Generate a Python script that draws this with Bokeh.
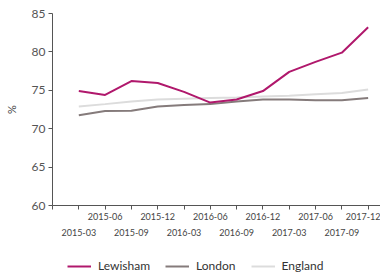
from bokeh.plotting import figure
from bokeh.layouts import column
from bokeh.models import LinearAxis, FixedTicker, Legend, LegendItem, Range1d, ColumnDataSource
from bokeh.embed import file_html
from bokeh.resources import INLINE

quarters = ["2015-03", "2015-06", "2015-09", "2015-12", "2016-03", "2016-06",
            "2016-09", "2016-12", "2017-03", "2017-06", "2017-09", "2017-12"]
lewisham = [74.9, 74.4, 76.2, 75.95, 74.8, 73.4, 73.8, 74.9, 77.4, 78.7, 79.9, 83.2]
london = [71.75, 72.3, 72.35, 72.9, 73.1, 73.2, 73.55, 73.8, 73.8, 73.7, 73.7, 74.0]
england = [72.9, 73.2, 73.55, 73.8, 73.9, 74.0, 74.05, 74.2, 74.3, 74.5, 74.65, 75.1]
series_names = ["Lewisham", "London", "England"]
y_ticks = [60, 65, 70, 75, 80, 85]

pos = list(range(1, len(quarters) + 1))
src = ColumnDataSource(dict(x=pos, lew=lewisham, lon=london, eng=england))

FONT = "Lato"
AX = "#555555"
C_LEW, C_LON, C_ENG = "#b0186c", "#857b7b", "#dcdcdc"

p = figure(width=380, height=243, output_backend="svg", toolbar_location=None,
           x_range=Range1d(0, 12.47), y_range=Range1d(60, 85),
           x_axis_location=None, y_axis_location=None,
           min_border_left=52, min_border_right=0, min_border_top=13, min_border_bottom=38)
p.outline_line_color = None
p.xgrid.visible = False
p.ygrid.visible = False

ya = LinearAxis(ticker=FixedTicker(ticks=y_ticks), axis_label="%")
ya.axis_line_color = AX
ya.major_tick_line_color = AX
ya.major_tick_out = 4
ya.major_tick_in = 0
ya.minor_tick_line_color = None
ya.major_label_text_font = FONT
ya.major_label_text_font_size = "12px"
ya.major_label_text_color = "#555555"
ya.major_label_standoff = 3
ya.axis_label_text_font = FONT
ya.axis_label_text_font_size = "11px"
ya.axis_label_text_font_style = "normal"
ya.axis_label_text_color = "#444444"
ya.axis_label_standoff = 11
p.add_layout(ya, "left")

even = {i + 1: (q if i % 2 == 1 else "") for i, q in enumerate(quarters)}
even[0] = ""
odd = {i + 1: (q if i % 2 == 0 else "") for i, q in enumerate(quarters)}

xa = LinearAxis(ticker=FixedTicker(ticks=[0] + pos))
xa.major_label_overrides = even
xa.axis_line_color = AX
xa.major_tick_line_color = AX
xa.major_tick_out = 4
xa.major_tick_in = 0
xa.minor_tick_line_color = None
xa.major_label_text_font = FONT
xa.major_label_text_font_size = "9px"
xa.major_label_text_color = "#444444"
xa.major_label_standoff = 3
p.add_layout(xa, "below")

xb = LinearAxis(ticker=FixedTicker(ticks=pos))
xb.major_label_overrides = odd
xb.axis_line_color = None
xb.major_tick_line_color = None
xb.minor_tick_line_color = None
xb.major_label_text_font = FONT
xb.major_label_text_font_size = "9px"
xb.major_label_text_color = "#444444"
xb.major_label_standoff = 0
p.add_layout(xb, "below")

p.line("x", "eng", source=src, line_color=C_ENG, line_width=2)
p.line("x", "lon", source=src, line_color=C_LON, line_width=2)
p.line("x", "lew", source=src, line_color=C_LEW, line_width=2)

# legend strip (same series, drawn out of view; only the legend shows)
q = figure(width=380, height=30, output_backend="svg", toolbar_location=None,
           x_range=Range1d(0, 1), y_range=Range1d(0, 1),
           x_axis_location=None, y_axis_location=None,
           min_border_left=0, min_border_right=0, min_border_top=0, min_border_bottom=0)
q.outline_line_color = None
q.xgrid.visible = False
q.ygrid.visible = False
l1 = q.line("x", "lew", source=src, line_color=C_LEW, line_width=2)
l2 = q.line("x", "lon", source=src, line_color=C_LON, line_width=2)
l3 = q.line("x", "eng", source=src, line_color=C_ENG, line_width=2)

legend = Legend(items=[LegendItem(label=series_names[0], renderers=[l1]),
                       LegendItem(label=series_names[1], renderers=[l2]),
                       LegendItem(label=series_names[2], renderers=[l3])],
                orientation="horizontal", location=(15, 0))
legend.border_line_color = None
legend.background_fill_alpha = 0
legend.padding = 0
legend.margin = 0
legend.spacing = 15
legend.glyph_width = 24
legend.glyph_height = 12
legend.label_height = 12
legend.label_standoff = 7
legend.label_text_font = FONT
legend.label_text_font_size = "12px"
legend.label_text_color = "#333333"
q.add_layout(legend, "center")

layout = column(p, q, spacing=0)
open("out.html", "w").write(file_html(layout, INLINE))
